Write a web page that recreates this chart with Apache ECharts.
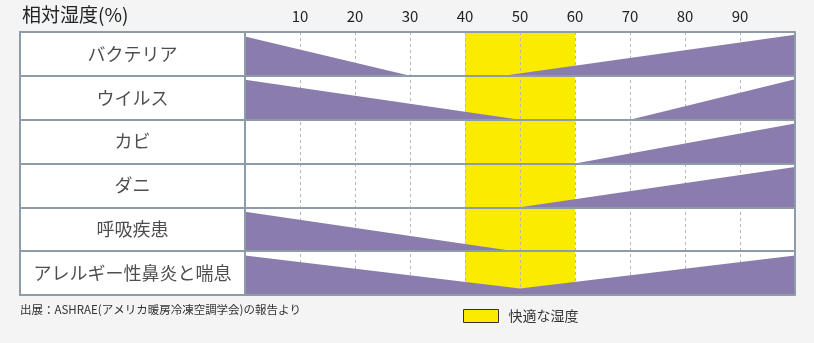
<!DOCTYPE html>
<html>
<head>
<meta charset="utf-8">
<script src="https://cdn.jsdelivr.net/npm/echarts@6/dist/echarts.min.js"></script>
<style>
  html, body { margin: 0; padding: 0; background: #f4f4f4; }
  #chart { width: 814px; height: 343px; }
</style>
</head>
<body>
<div id="chart"></div>
<script>
// Health risks by relative humidity
const categories = ['バクテリア', 'ウイルス', 'カビ', 'ダニ', '呼吸疾患', 'アレルギー性鼻炎と喘息'];

// Risk profile per row: [relative humidity %, risk level 0..1]
const bacteria  = [[0, 0.90], [30, 0], [47, 0], [100, 0.94]];
const virus     = [[0, 0.91], [50, 0], [70, 0], [100, 0.92]];
const mold      = [[0, 0], [60, 0], [100, 0.91]];
const mites     = [[0, 0], [50, 0], [100, 0.92]];
const respiratory = [[0, 0.90], [49, 0], [100, 0]];
const allergy   = [[0, 0.90], [50, 0.15], [100, 0.90]];
const riskProfiles = [bacteria, virus, mold, mites, respiratory, allergy];

// Comfortable humidity range (%)
const comfortRange = [40, 60];

// Humidity axis
const humidityMin = 0;
const humidityMax = 100;
const humidityStep = 10;

const TEXT = '#222';
const BORDER = '#8e9caa';
const PURPLE = '#8a7cad';
const YELLOW = '#faeb00';
const FONT = '"Noto Sans CJK JP", "Noto Sans", sans-serif';

const chart = echarts.init(document.getElementById('chart'), null, { renderer: 'canvas' });

chart.setOption({
  backgroundColor: '#f4f4f4',
  animation: false,
  textStyle: { fontFamily: FONT },
  graphic: [
    {
      type: 'text', left: 22, top: 5,
      style: { text: '相対湿度(%)', fontSize: 19, fill: TEXT, fontFamily: FONT }
    },
    {
      type: 'text', left: 20, top: 304,
      style: { text: '出展：ASHRAE(アメリカ暖房冷凍空調学会)の報告より', fontSize: 11.5, fill: '#333', fontFamily: FONT }
    }
  ],
  legend: {
    data: ['快適な湿度'],
    left: 463, top: 309, padding: 0,
    icon: 'rect',
    itemWidth: 35, itemHeight: 13,
    itemStyle: { borderColor: '#333', borderWidth: 1 },
    textStyle: { fontSize: 14, color: '#333', fontFamily: FONT, padding: [0, 0, 0, 5] }
  },
  grid: [
    { left: 20, top: 32, width: 225, height: 263, show: true, backgroundColor: '#fff', borderColor: BORDER, borderWidth: 2 },
    { left: 245, top: 32, width: 550, height: 263, show: true, backgroundColor: '#fff', borderWidth: 0 }
  ],
  xAxis: [
    { gridIndex: 0, type: 'value', min: 0, max: 1, show: false },
    {
      gridIndex: 1, type: 'value', position: 'top', z: 2,
      min: humidityMin, max: humidityMax, interval: humidityStep,
      axisLine: { show: false }, axisTick: { show: false },
      axisLabel: {
        margin: 8, fontSize: 15, color: TEXT, fontFamily: FONT,
        formatter: v => (v === humidityMin || v === humidityMax) ? '' : String(v)
      },
      splitLine: { show: true, lineStyle: { color: '#b8b8b8', type: [3, 3], width: 1 } }
    }
  ],
  yAxis: [
    {
      gridIndex: 0, type: 'category', data: categories, inverse: true,
      axisLine: { show: false }, axisTick: { show: false }, axisLabel: { show: false },
      splitLine: { show: true, interval: 0, lineStyle: { color: BORDER, width: 2 } }
    },
    {
      gridIndex: 1, type: 'value', min: 0, max: categories.length, interval: 1, inverse: true, z: 10,
      axisLine: { show: true, lineStyle: { color: BORDER, width: 2 } },
      axisTick: { show: false }, axisLabel: { show: false },
      splitLine: { show: true, lineStyle: { color: BORDER, width: 2 } }
    },
    {
      gridIndex: 1, type: 'value', position: 'right', min: 0, max: categories.length, inverse: true, z: 10,
      axisLine: { show: true, lineStyle: { color: BORDER, width: 2 } },
      axisTick: { show: false }, axisLabel: { show: false }, splitLine: { show: false }
    }
  ],
  series: [
    {
      // row names centred in the left column
      type: 'scatter', xAxisIndex: 0, yAxisIndex: 0, silent: true,
      symbolSize: 0,
      data: categories.map(c => [0.5, c]),
      label: {
        show: true, position: 'inside', color: TEXT, fontSize: 18, fontFamily: FONT,
        formatter: p => p.value[1]
      }
    },
    {
      // comfortable range band
      name: '快適な湿度',
      type: 'custom', xAxisIndex: 1, yAxisIndex: 1, z: 1, silent: true,
      itemStyle: { color: YELLOW },
      data: [comfortRange],
      encode: { x: [0, 1] },
      renderItem: (params, api) => {
        const a = api.coord([api.value(0), 0]);
        const b = api.coord([api.value(1), categories.length]);
        return {
          type: 'rect',
          shape: { x: a[0], y: Math.min(a[1], b[1]), width: b[0] - a[0], height: Math.abs(b[1] - a[1]) },
          style: { fill: YELLOW }
        };
      }
    },
    {
      // risk wedges for each row
      name: 'リスク',
      type: 'custom', xAxisIndex: 1, yAxisIndex: 1, z: 3, silent: true,
      itemStyle: { color: PURPLE },
      data: categories.map((c, i) => [0, i]),
      encode: { x: 0, y: 1 },
      renderItem: (params, api) => {
        const row = params.dataIndex;
        const pts = riskProfiles[row];
        const base = row + 1;
        const poly = pts.map(([h, lv]) => api.coord([h, base - lv]));
        poly.push(api.coord([pts[pts.length - 1][0], base]));
        poly.push(api.coord([pts[0][0], base]));
        return {
          type: 'polygon',
          shape: { points: poly },
          style: { fill: PURPLE }
        };
      }
    }
  ]
});
</script>
</body>
</html>
